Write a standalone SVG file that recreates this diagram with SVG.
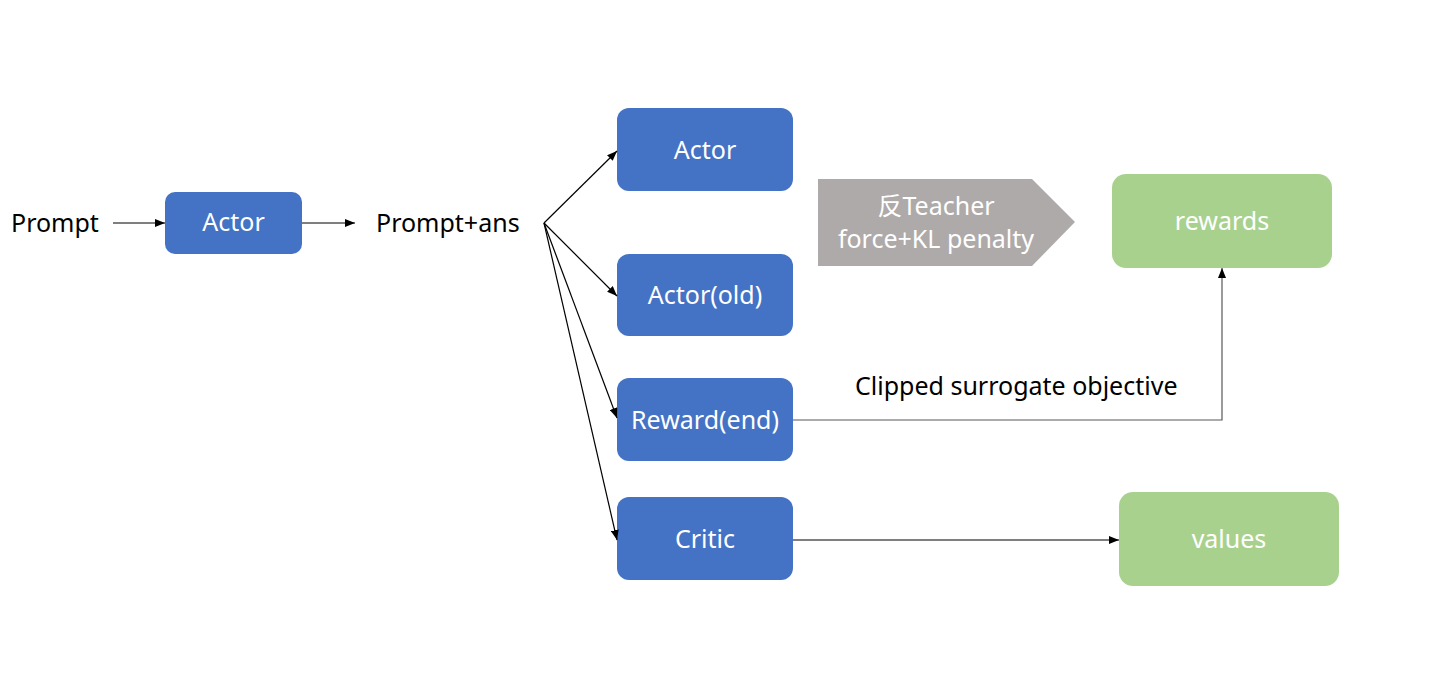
<svg xmlns="http://www.w3.org/2000/svg" width="1441" height="678" viewBox="0 0 1441 678">
<defs>
<marker id="ah" markerWidth="10" markerHeight="8" refX="10" refY="4" orient="auto" markerUnits="userSpaceOnUse">
<path d="M0,0 L10,4 L0,8 Z" fill="#000"/>
</marker>
<style>
text{font-family:"Noto Sans","Noto Sans CJK SC",sans-serif;font-size:25px;}
.blue{fill:#4472C4;}
.green{fill:#A9D18E;}
.w{fill:#fff;text-anchor:middle;}
.k{fill:#000;}
.c{fill:none;stroke:#000;stroke-width:1.2;}
</style>
</defs>
<rect width="1441" height="678" fill="#fff"/>
<g id="prompt"><text class="k" x="11" y="232">Prompt</text></g>
<g id="actor1"><rect class="blue" x="165" y="192" width="137" height="62" rx="10"/><text class="w" x="233.5" y="231">Actor</text></g>
<g id="promptans"><text class="k" x="376" y="232">Prompt+ans</text></g>
<g id="actor2"><rect class="blue" x="617" y="108" width="176" height="83" rx="12"/><text class="w" x="705" y="159">Actor</text></g>
<g id="actorold"><rect class="blue" x="617" y="254" width="176" height="82" rx="12"/><text class="w" x="705" y="304">Actor(old)</text></g>
<g id="reward"><rect class="blue" x="617" y="378" width="176" height="83" rx="12"/><text class="w" x="705" y="429">Reward(end)</text></g>
<g id="critic"><rect class="blue" x="617" y="497" width="176" height="83" rx="12"/><text class="w" x="705" y="548">Critic</text></g>
<g id="penalty"><path d="M818,179 L1032,179 L1075,222 L1032,266 L818,266 Z" fill="#AEAAAA"/><text class="w" x="936" y="215">反Teacher</text><text class="w" x="936" y="248">force+KL penalty</text></g>
<g id="rewards"><rect class="green" x="1112" y="174" width="220" height="94" rx="14"/><text class="w" x="1222" y="230">rewards</text></g>
<g id="values"><rect class="green" x="1119" y="492" width="220" height="94" rx="14"/><text class="w" x="1229" y="548">values</text></g>
<g id="label"><text class="k" x="855" y="395">Clipped surrogate objective</text></g>
<g id="connectors">
<line class="c" x1="113" y1="223" x2="165" y2="223" marker-end="url(#ah)"/>
<line class="c" x1="302" y1="223" x2="355" y2="223" marker-end="url(#ah)"/>
<line class="c" x1="544" y1="223" x2="617" y2="151" marker-end="url(#ah)"/>
<line class="c" x1="544" y1="223" x2="617" y2="296" marker-end="url(#ah)"/>
<line class="c" x1="544" y1="223" x2="617" y2="418" marker-end="url(#ah)"/>
<line class="c" x1="544" y1="223" x2="617" y2="540" marker-end="url(#ah)"/>
<polyline points="793,420 1222,420 1222,268" fill="none" stroke="#595959" stroke-width="1.2" marker-end="url(#ah)"/>
<line class="c" x1="793" y1="540" x2="1119" y2="540" marker-end="url(#ah)"/>
</g>
</svg>
